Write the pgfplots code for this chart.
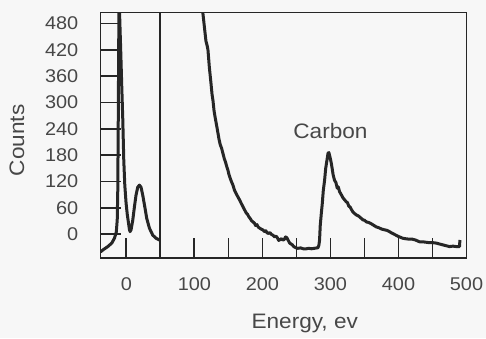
\documentclass[border=0pt]{standalone}
\usepackage{fontspec}
\setmainfont{Liberation Sans}[FakeStretch=1.08]
\usepackage{pgfplots}
\pgfplotsset{compat=1.18}
\definecolor{ink}{HTML}{262626}
\definecolor{txt}{HTML}{474747}
\definecolor{bg}{HTML}{F7F7F7}
\begin{document}
\begin{tikzpicture}[x=1bp,y=1bp]
\fill[bg] (0,0) rectangle (486,338);
\path[use as bounding box] (0,0) rectangle (486,338);
\begin{axis}[
  at={(100.5bp,80bp)}, anchor=south west,
  scale only axis, width=366bp, height=245.5bp,
  xmin=-38, xmax=500, ymin=-54, ymax=505,
  axis line style={ink, line width=1.7bp},
  tick align=inside, xtick pos=lower, ytick pos=left,
  xtick={0,100,...,500}, minor xtick={150,250,350,450},
  ytick={0,60,...,480},
  xtick style={ink, line width=1.8bp},
  ytick style={ink, line width=1.8bp},
  major tick length=20bp, minor tick length=20bp,
  tick label style={font=\fontsize{18.5}{20}\selectfont, text=txt, inner sep=0pt},
  /pgf/number format/assume math mode=true,
  xticklabel style={anchor=base, yshift=-32.7bp},
  yticklabel style={anchor=east, xshift=-22bp},
  xlabel={Energy, ev}, ylabel={Counts},
  label style={font=\fontsize{21}{24}\selectfont, text=txt},
  xlabel style={at={(axis description cs:0.558,-0.286)}, anchor=base},
  ylabel style={at={(axis description cs:-0.209,0.479)}, anchor=base},
]
% divider line at 50 eV
\addplot[ink, line width=2.1bp] coordinates {(50,-54) (50,505)};
% zero-loss and plasmon region
\addplot[ink, line width=3bp, line join=round] coordinates {
(-38,-40) (-33,-34) (-27.3,-28) (-21.4,-20) (-17.5,-9) (-14.8,5) (-13.4,33)
(-12.6,101) (-12.2,192) (-11.7,305) (-11.3,419) (-10.9,505) (-10.4,560)
(-10,505) (-8.2,414) (-6.8,339) (-5.3,264) (-3.8,169) (-2.3,112) (-0.4,71)
(1.3,46) (3.1,26) (4.4,12) (5.4,6) (6.9,10) (9.4,32) (11.9,63) (14.2,89)
(16.7,107) (19.2,112) (21.6,107) (24.1,89) (26.6,67) (30,36) (33.9,14)
(38.8,-2) (43.6,-9) (48.6,-13)
};
% core-loss region
\addplot[ink, line width=3bp, line join=round] coordinates {
(110,540) (112.6,502) (115,468) (117,440) (119,428) (120,419) (122,380)
(124,350) (126,318) (127.3,305) (129,280) (131,262) (133,245) (134.7,230)
(136,218) (138,204) (140,196) (142,184) (144,172) (146,163) (148,152)
(149.3,146) (151,135) (153,126) (155,118) (156.7,112) (159,100) (161,94)
(163,88) (166.5,78) (169,70) (171,64) (173,58) (176.4,48) (178,46) (180,40)
(182,36) (184,31) (186,28) (188,26) (190,20) (192,22) (194,16) (196,14)
(198,12) (200.7,10) (203,6) (205,8) (207,3) (209,2) (211,4) (213,0)
(215.4,-2) (218,-6) (220,-4) (222,-8) (224,-14) (226,-12) (228,-10)
(230,-13) (232,-12) (234,-6) (236,-8) (238,-14) (240,-20) (242,-22)
(244,-24) (246,-28) (249.8,-31) (252,-32) (256,-31) (260,-33) (264.5,-33)
(268,-32) (272,-33) (276,-32) (280,-31) (281.5,-31) (283,-25) (284,-13)
(285,20) (286.6,48) (288,70) (289.5,100) (291.4,123) (293,150) (295.3,173)
(296.5,185) (297.7,186) (299,178) (300.2,170) (301.2,162) (302.5,150)
(304,135) (306,123) (308,118) (310,105) (311.5,108) (313.4,97) (316,90)
(318,84) (320,80) (323.2,74) (325,72) (327,64) (329,62) (331,56) (332.9,51)
(335,48) (338,44) (341,42) (344,38) (347.6,33) (350,32) (353,28) (356,27)
(360,24) (363,21) (367.2,17) (371,15) (375,12) (380,10) (383,9) (386.8,6)
(390,3) (395,-1) (400,-5) (406.3,-9) (410,-10) (415,-11) (420,-11)
(425,-13) (430.8,-17) (435,-17) (440,-18) (445,-19) (450,-19) (455.4,-20)
(460,-22) (465,-24) (470,-26) (475,-28) (480,-27) (485,-28) (489.7,-28)
(490.3,-13)
};
\node[font=\fontsize{21}{24}\selectfont, text=txt, anchor=base, inner sep=0pt] at (axis cs:300,218) {Carbon};
\end{axis}
\end{tikzpicture}
\end{document}
